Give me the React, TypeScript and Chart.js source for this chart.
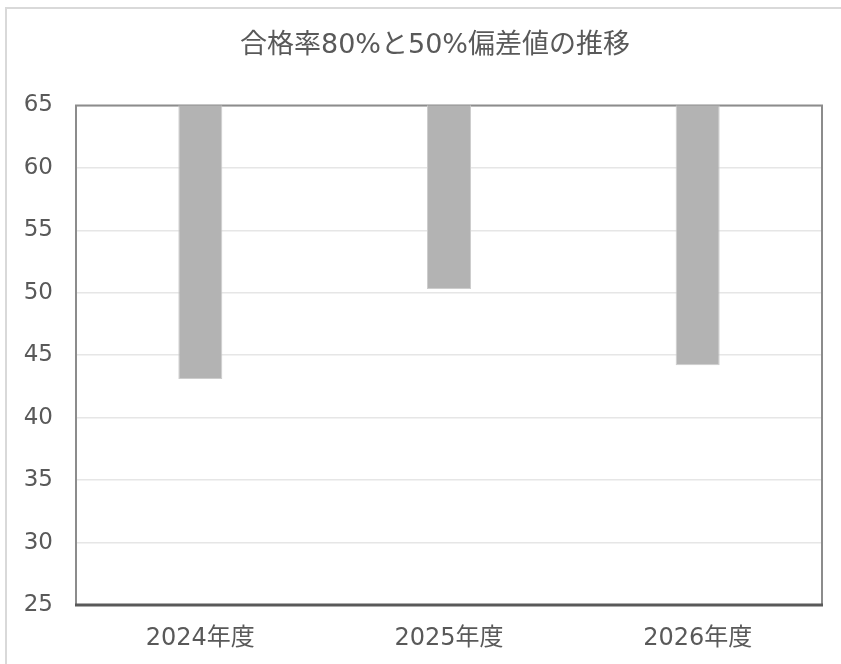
import React, { useEffect, useRef } from "react";
import { Chart, registerables } from "chart.js";

Chart.register(...registerables);

const categories = ["2024年度", "2025年度", "2026年度"];
const rangeLow = [43.1, 50.3, 44.2];
const rangeHigh = [70, 70, 70];
const yTicks = [25, 30, 35, 40, 45, 50, 55, 60, 65];
const titleText = "合格率80%と50%偏差値の推移";

const FONT = "'DejaVu Sans', 'Noto Sans CJK JP', sans-serif";
const TEXT = "#595959";

const framePlugin = {
  id: "frame",
  beforeDatasetsDraw(chart: any) {
    const { ctx, chartArea } = chart;
    ctx.save();
    ctx.strokeStyle = "#8c8c8c";
    ctx.lineWidth = 2;
    ctx.beginPath();
    ctx.moveTo(chartArea.left, chartArea.bottom);
    ctx.lineTo(chartArea.left, chartArea.top);
    ctx.lineTo(chartArea.right, chartArea.top);
    ctx.lineTo(chartArea.right, chartArea.bottom);
    ctx.stroke();
    ctx.restore();
  },
  afterDatasetsDraw(chart: any) {
    const { ctx, chartArea } = chart;
    ctx.save();
    ctx.strokeStyle = "#595959";
    ctx.lineWidth = 3;
    ctx.beginPath();
    ctx.moveTo(chartArea.left - 1, chartArea.bottom);
    ctx.lineTo(chartArea.right + 1, chartArea.bottom);
    ctx.stroke();
    ctx.restore();
  },
};

export default function App() {
  const ref = useRef<HTMLCanvasElement | null>(null);
  useEffect(() => {
    if (!ref.current) return;
    const chart = new Chart(ref.current, {
      type: "bar",
      data: {
        labels: categories,
        datasets: [
          {
            label: "偏差値",
            data: categories.map((_, i) => [rangeLow[i], rangeHigh[i]]) as any,
            backgroundColor: "#b3b3b3",
            borderColor: "#cdcdcd",
            borderWidth: 1,
            borderSkipped: false,
            barPercentage: 1,
            categoryPercentage: 0.177,
          },
        ],
      },
      options: {
        animation: false,
        responsive: false,
        devicePixelRatio: 1,
        layout: { padding: { left: 0, right: 0, top: 21, bottom: 0 } },
        plugins: {
          legend: { display: false },
          tooltip: { enabled: false },
          title: {
            display: true,
            text: titleText,
            color: TEXT,
            font: { family: FONT, size: 27, weight: "normal" },
            padding: { top: 0, bottom: 43 },
          },
        },
        scales: {
          x: {
            grid: { display: false, drawTicks: false },
            border: { display: false },
            ticks: {
              color: TEXT,
              font: { family: FONT, size: 24 },
              padding: 19,
              maxRotation: 0,
            },
            afterFit: (s: any) => {
              s.height = 59;
            },
          },
          y: {
            min: 25,
            max: 65,
            afterBuildTicks: (s: any) => {
              s.ticks = yTicks.map((v) => ({ value: v }));
            },
            grid: { color: "#e6e6e6", lineWidth: 1.5, drawTicks: false },
            border: { display: false },
            ticks: {
              color: TEXT,
              font: { family: FONT, size: 23 },
              padding: 23,
            },
            afterFit: (s: any) => {
              s.width = 69;
            },
          },
          yRight: {
            position: "right",
            min: 25,
            max: 65,
            grid: { display: false, drawTicks: false },
            border: { display: false },
            ticks: { display: false },
            afterFit: (s: any) => {
              s.width = 41;
            },
          },
        },
      },
      plugins: [framePlugin],
    });
    return () => chart.destroy();
  }, []);

  return (
    <div
      style={{
        position: "absolute",
        left: 5,
        top: 7,
        width: 836,
        height: 657,
        borderLeft: "2px solid #d9d9d9",
        borderTop: "2px solid #d9d9d9",
        boxSizing: "border-box",
        overflow: "hidden",
        background: "#ffffff",
      }}
    >
      <canvas ref={ref} width={856} height={655} style={{ display: "block" }} />
    </div>
  );
}
